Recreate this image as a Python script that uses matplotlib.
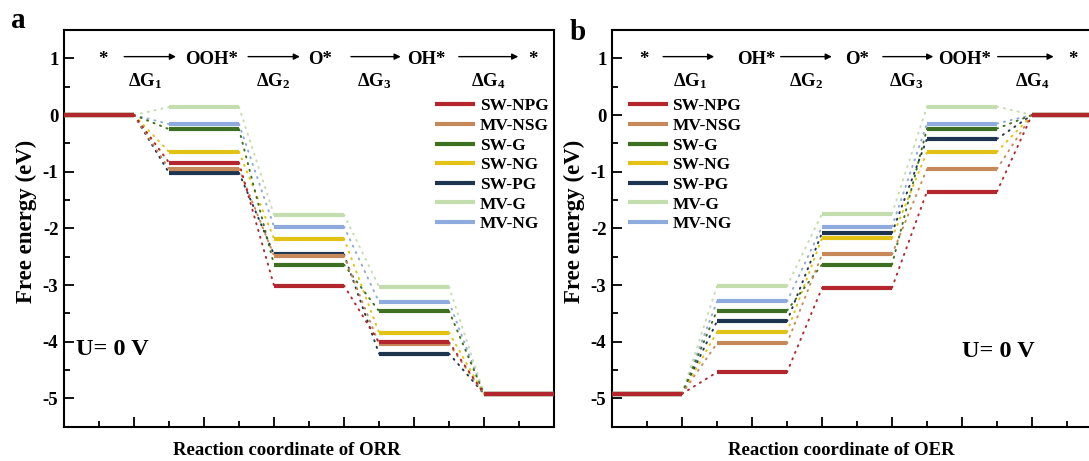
import matplotlib
matplotlib.use("Agg")
import matplotlib.pyplot as plt
from matplotlib.ticker import MultipleLocator

plt.rcParams['font.family'] = ['Liberation Serif', 'DejaVu Serif']
plt.rcParams['font.weight'] = 'bold'
plt.rcParams['axes.unicode_minus'] = False
plt.rcParams['mathtext.fontset'] = 'custom'
plt.rcParams['mathtext.rm'] = 'Liberation Serif:bold'
plt.rcParams['mathtext.bf'] = 'Liberation Serif:bold'
plt.rcParams['mathtext.it'] = 'Liberation Serif:bold'

# ---------------- data ----------------
series = ['SW-NPG', 'MV-NSG', 'SW-G', 'SW-NG', 'SW-PG', 'MV-G', 'MV-NG']
colors = ['#B3262D', '#C68A5A', '#3D7020', '#E2C214', '#1E3550', '#C4DDAE', '#8FAADC']

orr_sw_npg = [0, -0.84, -3.01, -4.01, -4.92]
orr_mv_nsg = [0, -0.95, -2.48, -4.04, -4.92]
orr_sw_g = [0, -0.25, -2.64, -3.46, -4.92]
orr_sw_ng = [0, -0.65, -2.18, -3.84, -4.92]
orr_sw_pg = [0, -1.02, -2.46, -4.21, -4.92]
orr_mv_g = [0, 0.14, -1.76, -3.03, -4.92]
orr_mv_ng = [0, -0.16, -1.97, -3.30, -4.92]

oer_sw_npg = [-4.92, -4.54, -3.05, -1.35, 0]
oer_mv_nsg = [-4.92, -4.03, -2.46, -0.95, 0]
oer_sw_g = [-4.92, -3.45, -2.64, -0.24, 0]
oer_sw_ng = [-4.92, -3.83, -2.17, -0.65, 0]
oer_sw_pg = [-4.92, -3.64, -2.08, -0.42, 0]
oer_mv_g = [-4.92, -3.02, -1.74, 0.15, 0]
oer_mv_ng = [-4.92, -3.29, -1.97, -0.15, 0]

orr_values = [orr_sw_npg, orr_mv_nsg, orr_sw_g, orr_sw_ng, orr_sw_pg, orr_mv_g, orr_mv_ng]
oer_values = [oer_sw_npg, oer_mv_nsg, oer_sw_g, oer_sw_ng, oer_sw_pg, oer_mv_g, oer_mv_ng]

orr_species = ['*', 'OOH*', 'O*', 'OH*', '*']
oer_species = ['*', 'OH*', 'O*', 'OOH*', '*']
step_labels = ['ΔG$_1$', 'ΔG$_2$', 'ΔG$_3$', 'ΔG$_4$']

# ---------------- layout ----------------
level_x = [(0, 1), (1.5, 2.5), (3, 4), (4.5, 5.5), (6, 7)]

W, H = 1089, 461
fig = plt.figure(figsize=(W / 100, H / 100), dpi=100)

def fx(px):
    return px / W

def fy(py):
    return 1 - py / H

ax_b_bottom = fy(426.7)
ax_h = (426.7 - 30) / H
axA = fig.add_axes([fx(64), ax_b_bottom, 490 / W, ax_h])
axB = fig.add_axes([fx(612), ax_b_bottom, 490 / W, ax_h])


def draw_panel(ax, values, species, sp_x, arrows, dg_x, xlabel, xlab_x,
               leg_anchor, u_pos):
    handles = [None] * len(series)
    for idx in reversed(range(len(series))):
        vals = values[idx]
        c = colors[idx]
        for i, (x0, x1) in enumerate(level_x):
            h, = ax.plot([x0, x1], [vals[i], vals[i]], color=c, lw=3.0,
                         solid_capstyle='butt', zorder=3)
            if i == 1:
                handles[idx] = h
            if i < len(level_x) - 1:
                ax.plot([x1, level_x[i + 1][0]], [vals[i], vals[i + 1]], color=c,
                        lw=1.4, linestyle=(0, (0.6, 3.0)), dash_capstyle='round',
                        zorder=2)
    ax.set_xlim(0, 7)
    ax.set_ylim(-5.5, 1.5)
    ax.xaxis.set_major_locator(MultipleLocator(1))
    ax.xaxis.set_minor_locator(MultipleLocator(0.5))
    ax.yaxis.set_major_locator(MultipleLocator(1))
    ax.yaxis.set_minor_locator(MultipleLocator(0.5))
    ax.tick_params(which='both', direction='in', top=False, right=False,
                   labelbottom=False, width=1.3)
    ax.tick_params(which='major', length=7, labelsize=13.5, pad=4)
    ax.tick_params(which='minor', length=4)
    for lab in ax.get_yticklabels():
        lab.set_fontweight('bold')
    for s in ax.spines.values():
        s.set_linewidth(1.5)
    ax.set_ylabel('Free energy (eV)', fontsize=16.5, fontweight='bold', labelpad=4)
    ax.set_xlabel(xlabel, fontsize=13.5, fontweight='bold', labelpad=11)
    ax.xaxis.label.set_x(xlab_x)
    ax.yaxis.label.set_y(0.518)

    for name, x in zip(species, sp_x):
        ax.text(x, 0.98, name, ha='center', va='center', fontsize=13.5,
                fontweight='bold', zorder=5)
    for (a0, a1) in arrows:
        ax.annotate('', xy=(a1, 1.03), xytext=(a0, 1.03),
                    arrowprops=dict(arrowstyle='-|>', lw=1.0, color='black',
                                    mutation_scale=9, shrinkA=0, shrinkB=0))
    for lab, x in zip(step_labels, dg_x):
        ax.text(x, 0.6, lab, ha='center', va='center', fontsize=13.5,
                fontweight='bold', zorder=5)

    leg = ax.legend(handles, series, loc='upper left', bbox_to_anchor=leg_anchor,
                    frameon=False, fontsize=12.5, handlelength=2.3,
                    handletextpad=0.25, labelspacing=0.2, borderpad=0,
                    borderaxespad=0)
    for t in leg.get_texts():
        t.set_fontweight('bold')
    ax.text(u_pos[0], u_pos[1], 'U= 0 V', ha='left', va='center', fontsize=17.5,
            fontweight='bold')


draw_panel(axA, orr_values, orr_species,
           [0.55, 2.11, 3.66, 5.17, 6.7],
           [(0.86, 1.6), (2.63, 3.37), (4.1, 4.81), (5.64, 6.49)],
           [1.16, 2.99, 4.43, 6.06],
           'Reaction coordinate of ORR', 0.455, (0.758, 0.828), (0.17, -4.13))

draw_panel(axB, oer_values, oer_species,
           [0.46, 2.06, 3.5, 5.04, 6.59],
           [(0.73, 1.46), (2.41, 3.14), (3.87, 4.59), (5.51, 6.31)],
           [1.11, 2.77, 4.21, 6.01],
           'Reaction coordinate of OER', 0.467, (0.033, 0.828), (5.0, -4.17))

fig.text(fx(18), fy(20), 'a', fontsize=21, fontweight='bold', ha='center', va='center')
fig.text(fx(578), fy(32), 'b', fontsize=21, fontweight='bold', ha='center', va='center')

fig.savefig('out.png', dpi=100)
